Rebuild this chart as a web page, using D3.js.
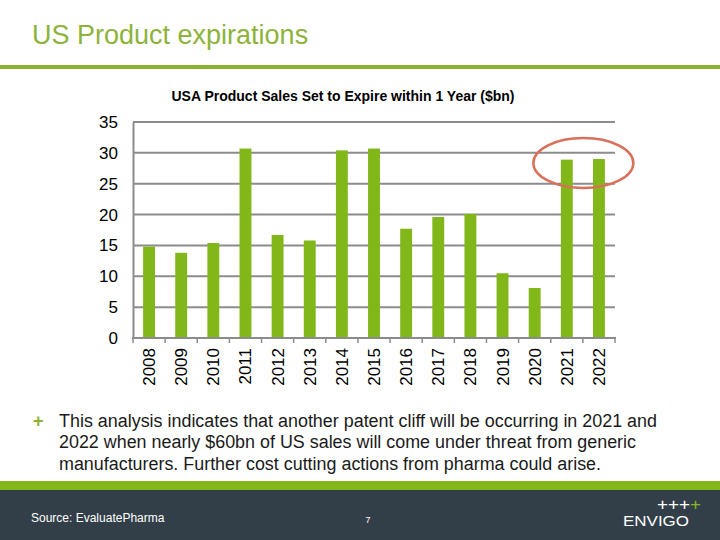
<!DOCTYPE html>
<html><head><meta charset="utf-8">
<script src="https://cdn.jsdelivr.net/npm/d3@7"></script>
<style>body{margin:0;background:#fff}svg{display:block}</style>
</head><body>
<script>
const years = ["2008","2009","2010","2011","2012","2013","2014","2015","2016","2017","2018","2019","2020","2021","2022"];
const sales = [14.8,13.8,15.4,30.7,16.7,15.8,30.4,30.7,17.7,19.6,20.1,10.5,8.1,28.9,29.0];
const yTicks = [0,5,10,15,20,25,30,35];
const highlighted = ["2021","2022"];
const bulletLines = [
  "This analysis indicates that another patent cliff will be occurring in 2021 and",
  "2022 when nearly $60bn of US sales will come under threat from generic",
  "manufacturers. Further cost cutting actions from pharma could arise."
];
const bulletWidths = [598,577,542];

const W=720,H=540;
const svg=d3.select("body").append("svg").attr("width",W).attr("height",H);
const font="Arial, 'Liberation Sans', sans-serif";

// slide title
svg.append("text").attr("x",32).attr("y",44).attr("font-family",font).attr("font-size",27)
  .attr("fill","#8db33a").text("US Product expirations");
svg.append("rect").attr("x",0).attr("y",65).attr("width",W).attr("height",4).attr("fill","#8db12f");

// chart title
svg.append("text").attr("x",343).attr("y",101).attr("text-anchor","middle").attr("font-family",font)
  .attr("font-size",14).attr("font-weight","bold").attr("fill","#000")
  .attr("textLength",343).attr("lengthAdjust","spacingAndGlyphs")
  .text("USA Product Sales Set to Expire within 1 Year ($bn)");

const x0=133,x1=615,y0=338,y1=122;
const x=d3.scaleBand().domain(years).range([x0,x1]).paddingInner(0.63).paddingOuter(0.315);
const y=d3.scaleLinear().domain([0,35]).range([y0,y1]);

// gridlines
svg.append("g").selectAll("line").data(yTicks.filter(d=>d>0)).join("line")
  .attr("x1",x0).attr("x2",x1).attr("y1",d=>y(d)).attr("y2",d=>y(d))
  .attr("stroke","#8c8c8c").attr("stroke-width",2);

// bars
svg.append("g").selectAll("rect").data(years).join("rect")
  .attr("x",d=>x(d)).attr("width",x.bandwidth())
  .attr("y",(d,i)=>y(sales[i])).attr("height",(d,i)=>y0-y(sales[i]))
  .attr("fill","#82b71a");

// y axis
const ya=svg.append("g").attr("transform",`translate(${x0},0)`)
  .call(d3.axisLeft(y).tickValues(yTicks).tickSize(0).tickPadding(15));
ya.select(".domain").attr("stroke","#8c8c8c").attr("stroke-width",2);
ya.selectAll("text").attr("font-family",font).attr("font-size",17).attr("fill","#000");

// x axis
const band=(x1-x0)/years.length;
const xa=svg.append("g").attr("transform",`translate(0,${y0})`);
xa.append("line").attr("x1",x0-1).attr("x2",x1+1).attr("stroke","#8c8c8c").attr("stroke-width",2);
xa.selectAll("line.tk").data(d3.range(years.length+1)).join("line").attr("class","tk")
  .attr("x1",i=>x0+i*band).attr("x2",i=>x0+i*band).attr("y1",0).attr("y2",5)
  .attr("stroke","#8c8c8c").attr("stroke-width",1.5);
xa.selectAll("text").data(years).join("text")
  .attr("transform",d=>`translate(${x(d)+x.bandwidth()/2+6},10) rotate(-90)`)
  .attr("text-anchor","end").attr("font-family",font).attr("font-size",17).attr("fill","#000")
  .text(d=>d);

// highlight ellipse
const hx=(x(highlighted[0])+x(highlighted[1])+x.bandwidth())/2;
svg.append("ellipse").attr("cx",hx+0.5).attr("cy",y(Math.max(sales[13],sales[14]))+4)
  .attr("rx",50).attr("ry",25).attr("fill","none").attr("stroke","#d9705a").attr("stroke-width",2.5);

// bullet text
svg.append("text").attr("x",33).attr("y",427).attr("font-family",font).attr("font-size",18)
  .attr("font-weight","bold").attr("fill","#8db12f").text("+");
svg.append("g").selectAll("text").data(bulletLines).join("text")
  .attr("x",59).attr("y",(d,i)=>427+i*21.3).attr("font-family",font).attr("font-size",18)
  .attr("textLength",(d,i)=>bulletWidths[i]).attr("lengthAdjust","spacingAndGlyphs")
  .attr("fill","#1a1a1a").text(d=>d);

// footer
svg.append("rect").attr("x",0).attr("y",481).attr("width",W).attr("height",9).attr("fill","#84b81a");
svg.append("rect").attr("x",0).attr("y",490).attr("width",W).attr("height",50).attr("fill","#333f48");
svg.append("text").attr("x",31).attr("y",522).attr("font-family",font).attr("font-size",12)
  .attr("fill","#fff").text("Source: EvaluatePharma");
svg.append("text").attr("x",368).attr("y",523).attr("text-anchor","middle").attr("font-family",font).attr("font-size",9)
  .attr("fill","#fff").text("7");
const logo=svg.append("text").attr("x",657).attr("y",510).attr("font-family",font)
  .attr("font-size",16).attr("fill","#fff").attr("textLength",44).attr("lengthAdjust","spacingAndGlyphs");
logo.append("tspan").text("+++");
logo.append("tspan").attr("fill","#84b81a").text("+");
svg.append("text").attr("x",623).attr("y",526).attr("font-family",font)
  .attr("font-size",14).attr("fill","#fff").attr("textLength",66).attr("lengthAdjust","spacingAndGlyphs").text("ENVIGO");
</script>
</body></html>
